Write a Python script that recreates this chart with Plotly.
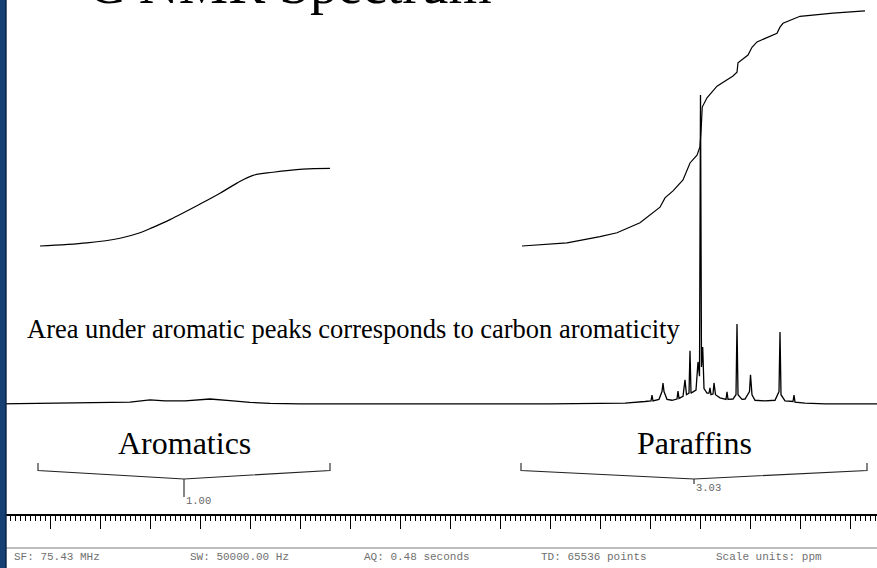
import plotly.graph_objects as go

# ---------------- data ----------------
# 1D 13C spectrum, chemical shift (ppm) and relative intensity (tallest peak = 100)
spec_ppm = [170, 150, 144, 140, 137, 133, 128, 124, 120, 116, 110, 60, 45, 41,
            39.8, 39.6, 39.4, 38.2, 37.6, 37.4, 37.2, 36.6, 35.6, 34.6, 34.4, 34.2,
            33.4, 33.0, 32.7, 32.2, 32.0, 31.8, 30.8, 30.4, 30.1, 29.9, 29.7, 29.46,
            29.2, 28.6, 28.2, 28.0, 27.8, 27.4, 27.2, 26.9, 26.0, 24.8, 24.6, 24.4,
            23.4, 22.8, 22.6, 22.4, 21.6, 21.0, 20.1, 19.9, 19.6, 19.0, 17.0, 15.0,
            14.2, 14.0, 13.8, 13.0, 11.4, 11.2, 11.0, 9.0, 5.0, -6.0]
spec_int = [0.0, 0.3, 0.6, 1.3, 1.0, 1.0, 1.6, 1.1, 0.5, 0.2, 0.0, 0.0, 0.3, 0.8,
            1.0, 2.9, 1.0, 1.5, 4.0, 6.8, 4.0, 1.5, 1.2, 1.6, 4.2, 1.8,
            2.5, 7.8, 3.0, 3.5, 17.2, 3.5, 4.5, 13.6, 9.0, 100.0, 12.0, 18.4,
            5.0, 3.5, 3.5, 5.2, 3.0, 3.2, 6.8, 3.0, 2.0, 1.5, 3.9, 1.5,
            1.6, 3.0, 25.9, 3.0, 1.5, 1.6, 4.0, 9.4, 3.0, 1.2, 1.0, 1.2,
            4.0, 23.3, 3.0, 1.0, 0.8, 2.9, 0.6, 0.3, 0.0, 0.0]

# integral traces (cumulative area, aromatic region normalised to 1.00)
arom_int_ppm = [162.0, 152.6, 146.0, 142.0, 139.4, 136.0, 130.0, 126.0, 122.6, 119.4, 115.4, 109.4, 104.0]
arom_int_val = [0.00, 0.04, 0.10, 0.17, 0.24, 0.34, 0.54, 0.68, 0.81, 0.91, 0.95, 0.99, 1.00]
par_int_ppm = [65.6, 56.6, 50.0, 46.6, 42.0, 39.4, 38.0, 37.0, 35.4, 33.4, 32.0, 30.6, 30.0,
               29.75, 29.55, 28.6, 26.6, 23.4, 22.6, 22.4, 20.4, 19.6, 18.6, 14.6, 14.0,
               13.4, 10.0, 3.4, -3.0]
par_int_val = [0.00, 0.04, 0.12, 0.17, 0.30, 0.43, 0.50, 0.62, 0.71, 0.85, 1.07, 1.17, 1.28,
               1.53, 1.79, 1.91, 2.06, 2.19, 2.24, 2.36, 2.46, 2.56, 2.63, 2.74, 2.82,
               2.87, 2.96, 3.00, 3.03]

region_names = ["Aromatics", "Paraffins"]
region_start = [162.4, 65.8]
region_end = [104.0, -3.4]
region_values = ["1.00", "3.03"]

footer_labels = ["SF: 75.43 MHz", "SW: 50000.00 Hz", "AQ: 0.48 seconds",
                 "TD: 65536 points", "Scale units: ppm"]
title_text = "<sup>13</sup>C NMR Spectrum"
note_text = "Area under aromatic peaks corresponds to carbon aromaticity"

# ---------------- layout helpers ----------------
W, H = 877, 568
PLOT_H = 514  # plot area height (axis line position)


def py(px):
    """pixel row -> paper y"""
    return (PLOT_H - px) / PLOT_H


def pxx(px):
    """pixel column -> paper x"""
    return px / W


serif = "Liberation Serif, Times New Roman, serif"
mono = "Liberation Mono, Courier New, monospace"

fig = go.Figure()
fig.add_trace(go.Scatter(x=spec_ppm, y=spec_int, mode="lines",
                         line=dict(color="black", width=1.3), yaxis="y", hoverinfo="skip"))
fig.add_trace(go.Scatter(x=arom_int_ppm, y=arom_int_val, mode="lines", line_shape="spline",
                         line=dict(color="black", width=1.2), yaxis="y2", hoverinfo="skip"))
fig.add_trace(go.Scatter(x=par_int_ppm, y=par_int_val, mode="lines",
                         line=dict(color="black", width=1.2), yaxis="y2", hoverinfo="skip"))

shapes = []
annotations = []

# integral brackets and values
stem_ends = [497, 484]
value_y = [501, 488]
for name, x0, x1, val, se, vy in zip(region_names, region_start, region_end,
                                      region_values, stem_ends, value_y):
    xc = (x0 + x1) / 2
    path = (f"M {x0},{py(463)} L {x0},{py(470.5)} L {xc},{py(479)} L {x1},{py(470.5)} L {x1},{py(463)} "
            f"M {xc},{py(479)} L {xc},{py(se)}")
    shapes.append(dict(type="path", xref="x", yref="paper", path=path,
                       line=dict(color="#222", width=1.1)))
    annotations.append(dict(x=xc, y=py(vy), xref="x", yref="paper", text=val, showarrow=False,
                            xanchor="left", yanchor="middle", xshift=0,
                            font=dict(family=mono, size=10.5, color="#666")))
    annotations.append(dict(x=xc, y=py(442.5), xref="x", yref="paper", text=name, showarrow=False,
                            xanchor="center", yanchor="middle",
                            font=dict(family=serif, size=32, color="black")))

# title (top cut off like the slide)
annotations.append(dict(x=pxx(494), y=py(-20), xref="paper", yref="paper", text=title_text,
                        showarrow=False, xanchor="right", yanchor="middle",
                        font=dict(family=serif, size=55.5, color="black")))
# note
annotations.append(dict(x=pxx(25), y=py(328.5), xref="paper", yref="paper", text=note_text,
                        showarrow=False, xanchor="left", yanchor="middle",
                        font=dict(family=serif, size=26.5, color="black")))
# footer
footer_x = [12, 188, 362, 539, 714]
for lab, fx in zip(footer_labels, footer_x):
    annotations.append(dict(x=pxx(fx), y=py(557), xref="paper", yref="paper", text=lab,
                            showarrow=False, xanchor="left", yanchor="middle",
                            font=dict(family=mono, size=11, color="#707070")))

# footer separator
shapes.append(dict(type="line", xref="paper", yref="paper", x0=pxx(6), x1=1, y0=py(548), y1=py(548),
                   line=dict(color="#a8a8a8", width=1.5)))
# slide's blue side strip
shapes.append(dict(type="rect", xref="paper", yref="paper", x0=0, x1=pxx(6.5), y0=py(H), y1=py(0),
                   fillcolor="#163f72", line=dict(width=0), layer="above"))
shapes.append(dict(type="line", xref="paper", yref="paper", x0=pxx(5.8), x1=pxx(5.8), y0=py(H), y1=py(0),
                   line=dict(color="#0a2646", width=1.3), layer="above"))

fig.update_layout(
    width=W, height=H,
    margin=dict(l=0, r=0, t=0, b=H - PLOT_H, pad=0),
    paper_bgcolor="white", plot_bgcolor="white",
    showlegend=False,
    xaxis=dict(range=[170, -5.4], autorange=False, showgrid=False, zeroline=False,
               showline=True, linecolor="black", linewidth=2,
               ticks="outside", ticklen=13, tickwidth=1, tickcolor="black",
               tick0=0, dtick=10, showticklabels=False,
               minor=dict(ticks="outside", ticklen=5, tickwidth=1, tickcolor="black",
                          dtick=1, tick0=0, showgrid=False)),
    yaxis=dict(range=[-35.6, 130.7], visible=False, fixedrange=True),
    yaxis2=dict(range=[-3.454, 3.170], visible=False, overlaying="y", fixedrange=True),
    shapes=shapes,
    annotations=annotations,
)

fig.write_html("out.html", config={"displayModeBar": False},
               post_script="document.body.style.margin='0';document.body.style.padding='0';"
                           "document.body.style.overflow='hidden';")
